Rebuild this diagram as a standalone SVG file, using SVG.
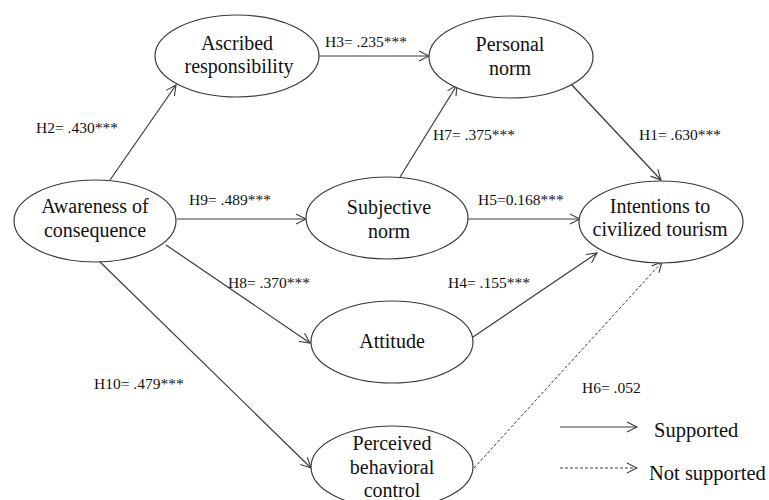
<svg xmlns="http://www.w3.org/2000/svg" width="769" height="500" viewBox="0 0 769 500">
  <style>
    .node ellipse { fill: #ffffff; stroke: #3a3a3a; stroke-width: 1.2; }
    .node text { font-size: 20px; fill: #111111; text-anchor: middle; }
    .edge { fill: none; stroke: #3a3a3a; stroke-width: 1.2; marker-end: url(#arrow); }
    .dashed { stroke-dasharray: 3 2; stroke-width: 1; }
    .lbl { font-size: 15.5px; fill: #111111; }
    .legend { font-size: 20.5px; fill: #111111; }
  </style>
  <defs>
    <marker id="arrow" viewBox="0 0 12 12" refX="11" refY="6" markerWidth="12" markerHeight="12" markerUnits="userSpaceOnUse" orient="auto">
      <path d="M1,1 L11,6 L1,11" fill="none" stroke="#3a3a3a" stroke-width="1.1"/>
    </marker>
  </defs>
  <rect width="769" height="500" fill="#ffffff"/>

  <g id="connectors">
    <line class="edge" x1="110" y1="180" x2="176" y2="85"/>
    <line class="edge" x1="319" y1="56" x2="429" y2="56"/>
    <line class="edge" x1="400" y1="177" x2="457" y2="85"/>
    <line class="edge" x1="571" y1="84" x2="661" y2="180"/>
    <line class="edge" x1="177" y1="219" x2="306" y2="219"/>
    <line class="edge" x1="468" y1="219" x2="580" y2="219"/>
    <line class="edge" x1="166" y1="245" x2="310" y2="343"/>
    <line class="edge" x1="97" y1="259" x2="311" y2="468"/>
    <line class="edge" x1="473" y1="337" x2="597" y2="253"/>
    <line class="edge dashed" x1="474" y1="468" x2="662" y2="262"/>
  </g>

  <g font-family="Liberation Serif, Times New Roman, DejaVu Serif, serif">
    <g id="node-ascribed" class="node">
      <ellipse cx="237" cy="56" rx="82" ry="41"/>
      <text x="237" y="50">Ascribed</text>
      <text x="239" y="73">responsibility</text>
    </g>
    <g id="node-personal" class="node">
      <ellipse cx="511" cy="57" rx="82" ry="41"/>
      <text x="510" y="51">Personal</text>
      <text x="510" y="75">norm</text>
    </g>
    <g id="node-awareness" class="node">
      <ellipse cx="95" cy="221" rx="81" ry="41"/>
      <text x="95" y="213">Awareness of</text>
      <text x="95" y="237">consequence</text>
    </g>
    <g id="node-subjective" class="node">
      <ellipse cx="387" cy="218" rx="81" ry="41"/>
      <text x="389" y="214">Subjective</text>
      <text x="389" y="238">norm</text>
    </g>
    <g id="node-intentions" class="node">
      <ellipse cx="661" cy="222" rx="82" ry="41"/>
      <text x="660" y="213">Intentions to</text>
      <text x="660" y="236">civilized tourism</text>
    </g>
    <g id="node-attitude" class="node">
      <ellipse cx="392" cy="342" rx="81" ry="41"/>
      <text x="392" y="348">Attitude</text>
    </g>
    <g id="node-pbc" class="node">
      <ellipse cx="392" cy="467" rx="81" ry="41"/>
      <text x="392" y="450">Perceived</text>
      <text x="392" y="474">behavioral</text>
      <text x="392" y="497">control</text>
    </g>

    <g id="labels">
      <text class="lbl" x="36" y="133">H2= .430***</text>
      <text class="lbl" x="325" y="47">H3= .235***</text>
      <text class="lbl" x="433" y="140">H7= .375***</text>
      <text class="lbl" x="639" y="140">H1= .630***</text>
      <text class="lbl" x="189" y="205">H9= .489***</text>
      <text class="lbl" x="478" y="205">H5=0.168***</text>
      <text class="lbl" x="228" y="288">H8= .370***</text>
      <text class="lbl" x="94" y="389">H10= .479***</text>
      <text class="lbl" x="448" y="288">H4= .155***</text>
      <text class="lbl" x="582" y="393">H6= .052</text>
    </g>

    <g id="legend">
      <line class="edge" x1="560" y1="427" x2="637" y2="427"/>
      <text class="legend" x="654" y="437">Supported</text>
      <line class="edge dashed" x1="560" y1="468" x2="637" y2="468"/>
      <text class="legend" x="649" y="480">Not supported</text>
    </g>
  </g>
</svg>
